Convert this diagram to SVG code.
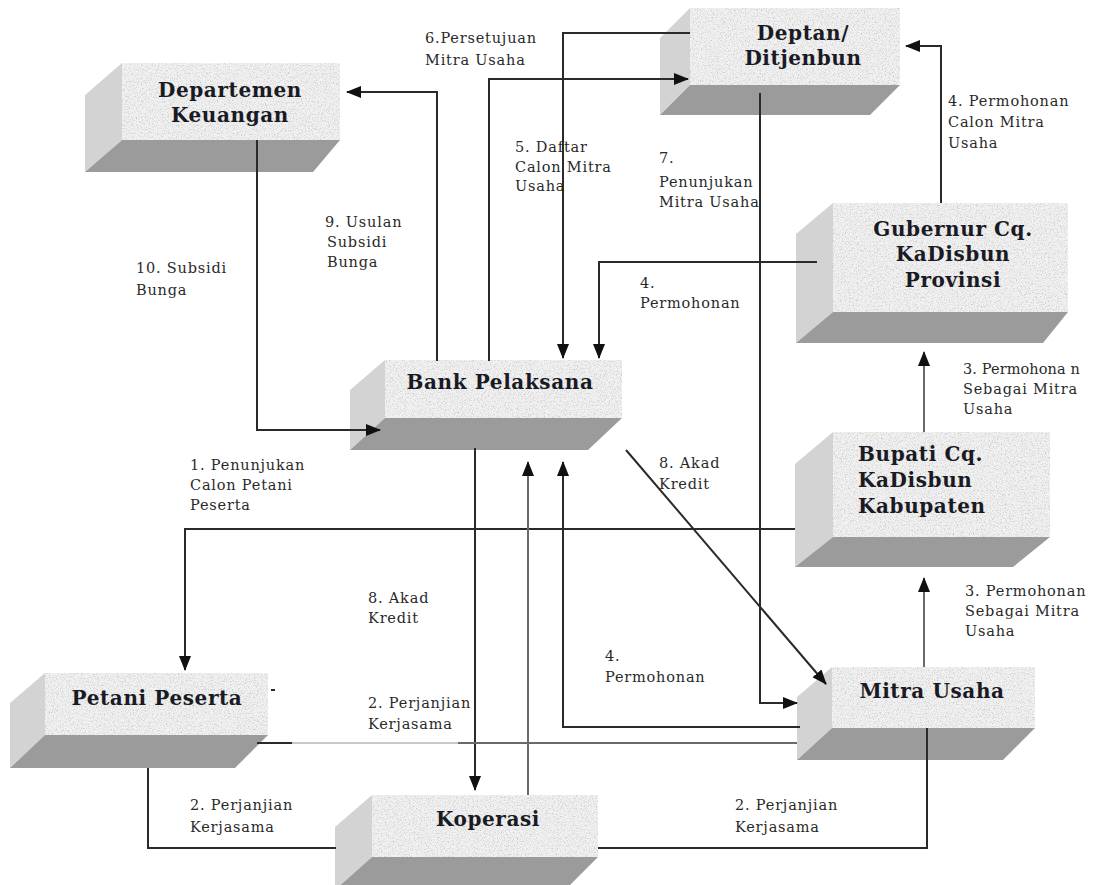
<svg xmlns="http://www.w3.org/2000/svg" width="1105" height="885" viewBox="0 0 1105 885">
<style>
.side{fill:#d3d3d3}
.bot{fill:#9b9b9b}
.front{fill:#f1f1f1}
.speck{fill:#fff;filter:url(#noise)}
.nt{font-family:"DejaVu Serif","Liberation Serif",serif;font-weight:bold;font-size:20px;letter-spacing:0.6px;fill:#1a1a24;text-anchor:middle}
.ntl{font-family:"DejaVu Serif","Liberation Serif",serif;font-weight:bold;font-size:20px;letter-spacing:0.6px;fill:#1a1a24}
.lb{font-family:"DejaVu Serif","Liberation Serif",serif;font-size:14.5px;letter-spacing:0.8px;fill:#2a2a2a}
.ln{fill:none;stroke:#2a2a2a;stroke-width:2}
.lg{fill:none;stroke:#6a6a6a;stroke-width:2}
.ll{fill:none;stroke:#c8c8c8;stroke-width:2}
</style>
<defs>
<filter id="noise" x="0" y="0" width="1" height="1">
<feTurbulence type="fractalNoise" baseFrequency="0.75" numOctaves="3" seed="7" result="n"/>
<feColorMatrix in="n" type="matrix" values="0 0 0 0 0.55  0 0 0 0 0.55  0 0 0 0 0.55  2.6 0 0 0 -1.25"/>
</filter>
<marker id="ah" markerUnits="userSpaceOnUse" markerWidth="15" markerHeight="12" refX="14" refY="6" orient="auto">
<path d="M0,0 L15,6 L0,12 z" fill="#111"/>
</marker>
</defs>
<rect width="1105" height="885" fill="#fff"/>

<g id="departemen-keuangan">
<polygon class="side" points="122,63 85,95 85,172 122,140"/>
<polygon class="bot" points="122,140 340,140 313,172 85,172"/>
<rect class="front" x="122" y="63" width="218" height="77"/>
<rect class="speck" x="122" y="63" width="218" height="77"/>
<text class="nt" x="230" y="97">Departemen</text>
<text class="nt" x="230" y="122">Keuangan</text>
</g>

<g id="deptan">
<polygon class="side" points="690,8 660,38 660,115 690,85"/>
<polygon class="bot" points="690,85 900,85 870,115 660,115"/>
<rect class="front" x="690" y="8" width="210" height="77"/>
<rect class="speck" x="690" y="8" width="210" height="77"/>
<text class="nt" x="803" y="40">Deptan/</text>
<text class="nt" x="803" y="65">Ditjenbun</text>
</g>

<g id="gubernur">
<polygon class="side" points="833,203 796,234 796,343 833,312"/>
<polygon class="bot" points="833,312 1068,312 1043,343 796,343"/>
<rect class="front" x="833" y="203" width="235" height="109"/>
<rect class="speck" x="833" y="203" width="235" height="109"/>
<text class="nt" x="953" y="236">Gubernur Cq.</text>
<text class="nt" x="953" y="261">KaDisbun</text>
<text class="nt" x="953" y="287">Provinsi</text>
</g>

<g id="bank-pelaksana">
<polygon class="side" points="385,360 350,390 350,450 385,418"/>
<polygon class="bot" points="385,418 622,418 588,450 350,450"/>
<rect class="front" x="385" y="360" width="237" height="58"/>
<rect class="speck" x="385" y="360" width="237" height="58"/>
<text class="nt" x="500" y="389">Bank Pelaksana</text>
</g>

<g id="bupati">
<polygon class="side" points="833,432 795,464 795,567 833,537"/>
<polygon class="bot" points="833,537 1050,537 1013,567 795,567"/>
<rect class="front" x="833" y="432" width="217" height="105"/>
<rect class="speck" x="833" y="432" width="217" height="105"/>
<text class="ntl" x="858" y="461">Bupati Cq.</text>
<text class="ntl" x="858" y="487">KaDisbun</text>
<text class="ntl" x="858" y="513">Kabupaten</text>
</g>

<g id="mitra-usaha">
<polygon class="side" points="832,667 797,697 797,760 832,728"/>
<polygon class="bot" points="832,728 1035,728 1003,760 797,760"/>
<rect class="front" x="832" y="667" width="203" height="61"/>
<rect class="speck" x="832" y="667" width="203" height="61"/>
<text class="nt" x="932" y="698">Mitra Usaha</text>
</g>

<g id="petani-peserta">
<polygon class="side" points="45,673 10,703 10,768 45,735"/>
<polygon class="bot" points="45,735 268,735 235,768 10,768"/>
<rect class="front" x="45" y="673" width="223" height="62"/>
<rect class="speck" x="45" y="673" width="223" height="62"/>
<text class="nt" x="157" y="705">Petani Peserta</text>
</g>

<g id="koperasi">
<polygon class="side" points="372,795 335,827 335,890 372,857"/>
<polygon class="bot" points="372,857 598,857 565,890 335,890"/>
<rect class="front" x="372" y="795" width="226" height="62"/>
<rect class="speck" x="372" y="795" width="226" height="62"/>
<text class="nt" x="488" y="826">Koperasi</text>
</g>

<g id="connectors">
<path class="ln" d="M257,140 V430 H380" marker-end="url(#ah)"/>
<path class="ln" d="M437,361 V92 H347" marker-end="url(#ah)"/>
<path class="ln" d="M489,361 V79 H688" marker-end="url(#ah)"/>
<path class="ln" d="M690,33 H563 V358" marker-end="url(#ah)"/>
<path class="ln" d="M817,262 H599 V358" marker-end="url(#ah)"/>
<path class="ln" d="M941,203 V46 H906" marker-end="url(#ah)"/>
<path class="ln" d="M760,93 V703 H797" marker-end="url(#ah)"/>
<path class="ln" d="M800,727 H563 V462" marker-end="url(#ah)"/>
<path class="ln" d="M626,450 L826,684" marker-end="url(#ah)"/>
<path class="ln" d="M795,529 H185 V670" marker-end="url(#ah)"/>
<path class="lg" d="M924,667 V578" marker-end="url(#ah)"/>
<path class="lg" d="M924,432 V352" marker-end="url(#ah)"/>
<path class="ln" d="M475,448 V790" marker-end="url(#ah)"/>
<path class="lg" d="M528,795 V462" marker-end="url(#ah)"/>
<path class="ln" d="M257,743 H292"/>
<path class="ll" d="M292,743 H458"/>
<path class="lg" d="M458,743 H797"/>
<path class="ln" d="M271,690 H275"/>
<path class="ln" d="M148,768 V848 H336"/>
<path class="ln" d="M598,848 H927 V728"/>

<text class="lb" x="425" y="43">6.Persetujuan</text>
<text class="lb" x="425" y="65">Mitra Usaha</text>
<text class="lb" x="515" y="152">5. Daftar</text>
<text class="lb" x="515" y="172">Calon Mitra</text>
<text class="lb" x="515" y="191">Usaha</text>
<text class="lb" x="659" y="163">7.</text>
<text class="lb" x="659" y="187">Penunjukan</text>
<text class="lb" x="659" y="207">Mitra Usaha</text>
<text class="lb" x="948" y="106">4. Permohonan</text>
<text class="lb" x="948" y="127">Calon Mitra</text>
<text class="lb" x="948" y="148">Usaha</text>
<text class="lb" x="325" y="227">9. Usulan</text>
<text class="lb" x="327" y="247">Subsidi</text>
<text class="lb" x="327" y="267">Bunga</text>
<text class="lb" x="136" y="273">10. Subsidi</text>
<text class="lb" x="136" y="295">Bunga</text>
<text class="lb" x="640" y="288">4.</text>
<text class="lb" x="640" y="308">Permohonan</text>
<text class="lb" x="963" y="374" style="letter-spacing:0.1px">3. Permohona n</text>
<text class="lb" x="963" y="394">Sebagai Mitra</text>
<text class="lb" x="963" y="414">Usaha</text>
<text class="lb" x="659" y="468">8. Akad</text>
<text class="lb" x="659" y="489">Kredit</text>
<text class="lb" x="190" y="470">1. Penunjukan</text>
<text class="lb" x="190" y="490">Calon Petani</text>
<text class="lb" x="190" y="510">Peserta</text>
<text class="lb" x="965" y="596">3. Permohonan</text>
<text class="lb" x="965" y="616">Sebagai Mitra</text>
<text class="lb" x="965" y="636">Usaha</text>
<text class="lb" x="368" y="603">8. Akad</text>
<text class="lb" x="368" y="623">Kredit</text>
<text class="lb" x="605" y="661">4.</text>
<text class="lb" x="605" y="682">Permohonan</text>
<text class="lb" x="368" y="708">2. Perjanjian</text>
<text class="lb" x="368" y="729">Kerjasama</text>
<text class="lb" x="190" y="810">2. Perjanjian</text>
<text class="lb" x="190" y="832">Kerjasama</text>
<text class="lb" x="735" y="810">2. Perjanjian</text>
<text class="lb" x="735" y="832">Kerjasama</text>
</g>
</svg>
